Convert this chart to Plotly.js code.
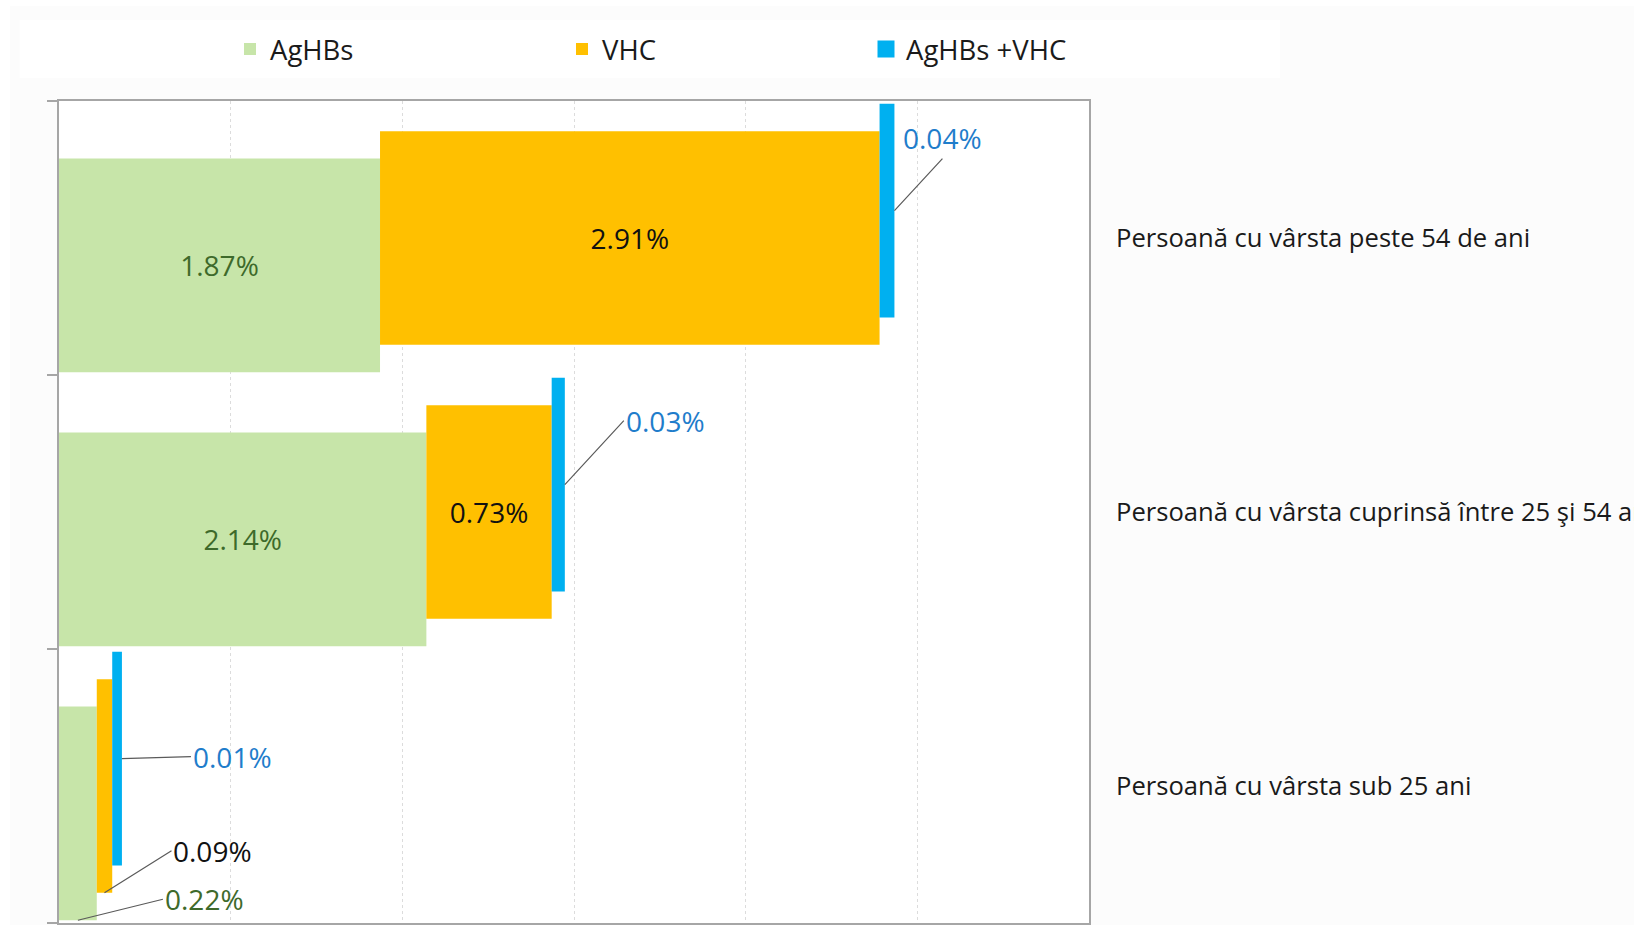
<!DOCTYPE html>
<html>
<head>
<meta charset="utf-8">
<script src="https://cdn.plot.ly/plotly-3.0.1.min.js"></script>
<style>
  html, body { margin: 0; padding: 0; background: #ffffff; }
  #chart { position: absolute; left: 10px; top: 6px; width: 1624px; height: 919px; }
</style>
</head>
<body>
<div id="chart"></div>
<script>
// ---- data ----
const categories = [
  'Persoană cu vârsta peste 54 de ani',
  'Persoană cu vârsta cuprinsă între 25 şi 54 ani',
  'Persoană cu vârsta sub 25 ani'
];
const seriesNames = ['AgHBs', 'VHC', 'AgHBs +VHC'];
const agHBs    = [1.87, 2.14, 0.22];
const vhc      = [2.91, 0.73, 0.09];
const agHBsVhc = [0.04, 0.03, 0.01];

// ---- styles ----
const FONT = 'Open Sans, Noto Sans, sans-serif';
const barColors   = ['#C7E5A9', '#FFC000', '#00B0F0'];
const labelColors = ['#3E6A2B', '#111111', '#1F7DCB'];
const BAR_W = 0.78;
const SHIFT = [-0.1, 0, 0.1];       // vertical stagger of each series inside a category
const OUTLINE = [0, 0, 8];          // px outline that thickens the thin series
const X_MAX = 6;
const PLOT_W = 1029.6, PLOT_H = 822;
const PX_PER_X = PLOT_W / X_MAX;
const PX_PER_Y = PLOT_H / 3;
const INSIDE_MIN = 0.5;            // values below this get an outside label with leader line
const outsideLabelStyle = {        // keyed by "series-category"
  '2-0': {ax: 48, ay: -52, xanchor: 'center', yanchor: 'bottom', at: 'end'},
  '2-1': {ax: 59, ay: -64, xanchor: 'left', yanchor: 'middle', at: 'end'},
  '2-2': {ax: 69, ay: -2,  xanchor: 'left', yanchor: 'middle', at: 'end'},
  '1-2': {ax: 67, ay: -42, xanchor: 'left', yanchor: 'middle', at: 'bottom'},
  '0-2': {ax: 85, ay: -21, xanchor: 'left', yanchor: 'middle', at: 'bottom'}
};

const series = [agHBs, vhc, agHBsVhc];
const n = categories.length;
const pos = categories.map((c, i) => n - 1 - i);   // top category drawn at the top

const traces = [];
const annotations = [];
const bases = categories.map(() => 0);

series.forEach((vals, s) => {
  const lw = OUTLINE[s];
  const base = bases.map(b => b + (lw / 2) / PX_PER_X);
  const w = BAR_W - lw / PX_PER_Y;
  const off = -w / 2 + SHIFT[s];
  traces.push({
    type: 'bar',
    orientation: 'h',
    name: seriesNames[s],
    legend: s === 0 ? 'legend' : 'legend' + (s + 1),
    y: pos,
    x: vals,
    base: base,
    width: w,
    offset: off,
    yaxis: s === 2 ? 'y2' : 'y',
    marker: {
      color: barColors[s],
      line: {color: barColors[s], width: lw}
    },
    text: vals.map(v => v.toFixed(2) + '%'),
    texttemplate: '%{text}',
    textposition: vals.map(v => v >= INSIDE_MIN ? 'inside' : 'none'),
    insidetextanchor: 'middle',
    textangle: 0,
    constraintext: 'none',
    insidetextfont: {family: FONT, size: 28, color: labelColors[s]},
    hoverinfo: 'name+text',
    cliponaxis: false
  });
  vals.forEach((v, i) => {
    if (v < INSIDE_MIN) {
      const st = outsideLabelStyle[s + '-' + i] || {ax: 60, ay: -30, xanchor: 'left', yanchor: 'middle', at: 'end'};
      const hx = st.at === 'end' ? base[i] + v + (lw / 2) / PX_PER_X : base[i] + v / 2;
      const hy = st.at === 'end' ? pos[i] + SHIFT[s] : pos[i] + SHIFT[s] - BAR_W / 2;
      annotations.push({
        x: hx, y: hy, xref: 'x', yref: 'y',
        text: v.toFixed(2) + '%',
        showarrow: true, arrowhead: 0, arrowwidth: 1.2, arrowcolor: '#5a5a5a',
        standoff: 0, startstandoff: 0,
        ax: st.ax, ay: st.ay, xanchor: st.xanchor, yanchor: st.yanchor,
        font: {family: FONT, size: 28, color: labelColors[s]}
      });
    }
    bases[i] += v;
  });
});

const W = 1624, H = 919;
const legendTextX = [260, 592, 896];   // where each legend text begins (px in the chart)
const legendCommon = (k) => ({
  orientation: 'h',
  xref: 'container', yref: 'container',
  x: (legendTextX[k] - 40) / W, xanchor: 'left',
  y: 1 - 43 / H, yanchor: 'middle',
  bgcolor: 'rgba(0,0,0,0)',
  borderwidth: 0,
  font: {family: FONT, size: 27.5, color: '#1a1a1a'}
});

const layout = {
  width: W, height: H,
  paper_bgcolor: '#fcfcfc',
  plot_bgcolor: '#ffffff',
  margin: {l: 49.4, r: W - 49.4 - PLOT_W, t: 95, b: 2, pad: 0},
  barmode: 'overlay',
  showlegend: true,
  legend: legendCommon(0),
  legend2: legendCommon(1),
  legend3: legendCommon(2),
  font: {family: FONT, size: 25, color: '#1a1a1a'},
  xaxis: {
    range: [0, X_MAX], dtick: 1, tick0: 0,
    showgrid: true, gridcolor: '#dcdcdc', griddash: '3px,3px', gridwidth: 1,
    zeroline: false, showticklabels: false, ticks: '',
    showline: true, linecolor: '#a6a6a6', linewidth: 2, mirror: true,
    fixedrange: true
  },
  yaxis: {
    range: [-0.5, n - 0.5],
    tickvals: categories.map((c, i) => i - 0.5).concat([n - 0.5]),
    ticktext: categories.map(() => '').concat(['']),
    ticks: 'outside', ticklen: 10, tickwidth: 2, tickcolor: '#a6a6a6',
    showgrid: false, zeroline: false,
    showline: true, linecolor: '#a6a6a6', linewidth: 2, mirror: true,
    fixedrange: true
  },
  yaxis2: {
    overlaying: 'y', side: 'right', anchor: 'x',
    range: [-0.5, n - 0.5],
    tickvals: pos, ticktext: categories,
    ticks: '', showgrid: false, zeroline: false, showline: false,
    ticklabelstandoff: 26,
    tickfont: {family: FONT, size: 25.6, color: '#1a1a1a'},
    fixedrange: true
  },
  shapes: [{
    type: 'rect', xref: 'paper', yref: 'paper', layer: 'below',
    x0: (10 - 49.4) / PLOT_W, x1: (1270 - 49.4) / PLOT_W,
    y0: (917 - 72) / PLOT_H, y1: (917 - 14) / PLOT_H,
    fillcolor: '#ffffff', line: {width: 0}
  }],
  annotations: annotations
};

Plotly.newPlot('chart', traces, layout, {displayModeBar: false, staticPlot: true});
</script>
</body>
</html>
